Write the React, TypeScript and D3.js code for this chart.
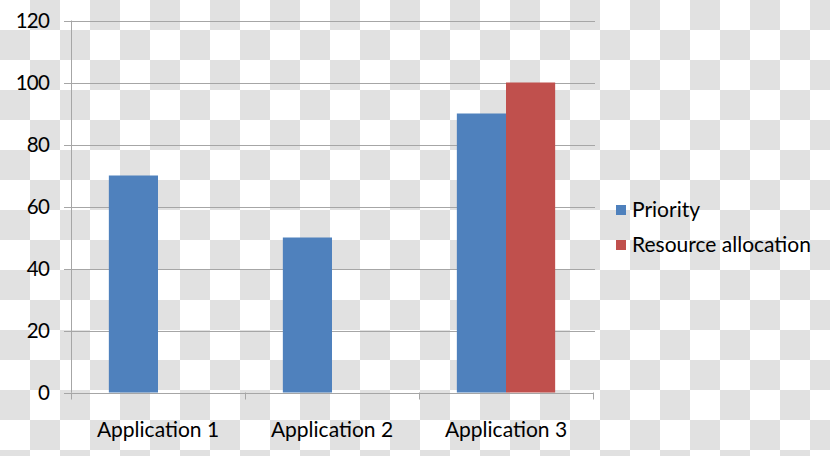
import React from "react";
import * as d3 from "d3";

const categories = ["Application 1", "Application 2", "Application 3"];
const seriesNames = ["Priority", "Resource allocation"];
const priority = [70, 50, 90];
const resourceAllocation = [0, 0, 100];
const yTicks = [0, 20, 40, 60, 80, 100, 120];
const colors = ["#4f81bd", "#c0504d"];

const W = 830;
const H = 456;
const M = { left: 71, right: 237, top: 20.5, bottom: 63.5 };

export default function App() {
  const x = d3.scaleBand().domain(categories).range([M.left, W - M.right]).paddingInner(0).paddingOuter(0);
  const y = d3.scaleLinear().domain([0, 120]).range([H - M.bottom, M.top]);
  const groupW = x.bandwidth() * 0.565;
  const sub = d3.scaleBand().domain(seriesNames).range([0, groupW]).padding(0);
  const seriesValues = [priority, resourceAllocation];

  const cells: JSX.Element[] = [];
  const sq = 30;
  for (let r = 0; r * sq < H; r++) {
    for (let c = 0; c * sq < W; c++) {
      if ((r + c) % 2 === 1) {
        cells.push(<rect key={`${r}-${c}`} x={c * sq} y={r * sq} width={sq} height={sq} fill="#e1e1e1" />);
      }
    }
  }

  const font = "Lato, 'Liberation Sans', sans-serif";
  const boundaries = [...categories.map((c) => x(c) as number), W - M.right];

  return (
    <svg width={W} height={H} style={{ position: "absolute", left: 0, top: 0 }}>
      <rect width={W} height={H} fill="#ffffff" />
      {cells}
      {yTicks.map((t) => (
        <g key={t}>
          {t > 0 && (
            <line x1={M.left - 7} x2={W - M.right + 2} y1={Math.round(y(t)) + 0.5} y2={Math.round(y(t)) + 0.5} stroke="#a6a6a6" strokeWidth={1} />
          )}
          <text x={49} y={y(t)} dy="0.36em" textAnchor="end" fontSize={20.5} letterSpacing={-0.8} fontFamily={font} fill="#000">
            {t}
          </text>
        </g>
      ))}
      {seriesValues.map((vals, si) =>
        categories.map((c, ci) => {
          const bx = (x(c) as number) + (x.bandwidth() - groupW) / 2 + (sub(seriesNames[si]) as number);
          const v = vals[ci];
          if (!v) return null;
          return <rect key={`${si}-${ci}`} x={bx} y={y(v)} width={sub.bandwidth()} height={y(0) - y(v)} fill={colors[si]} />;
        })
      )}
      <line x1={M.left + 0.5} x2={M.left + 0.5} y1={M.top} y2={y(0)} stroke="#a6a6a6" />
      <line x1={M.left - 7} x2={W - M.right + 1} y1={Math.round(y(0)) + 0.5} y2={Math.round(y(0)) + 0.5} stroke="#a6a6a6" />
      {boundaries.map((b, i) => (
        <line key={i} x1={Math.round(b) + 0.5} x2={Math.round(b) + 0.5} y1={y(0)} y2={y(0) + 7} stroke="#a6a6a6" />
      ))}
      {categories.map((c) => (
        <text key={c} x={(x(c) as number) + x.bandwidth() / 2} y={437} textAnchor="middle" fontSize={21} fontFamily={font} fill="#000">
          {c}
        </text>
      ))}
      {seriesNames.map((s, i) => (
        <g key={s} transform={`translate(616, ${205 + i * 35})`}>
          <rect x={0} y={0} width={10} height={10} fill={colors[i]} />
          <text x={16} y={12} fontSize={21} fontFamily={font} fill="#000">
            {s}
          </text>
        </g>
      ))}
    </svg>
  );
}
